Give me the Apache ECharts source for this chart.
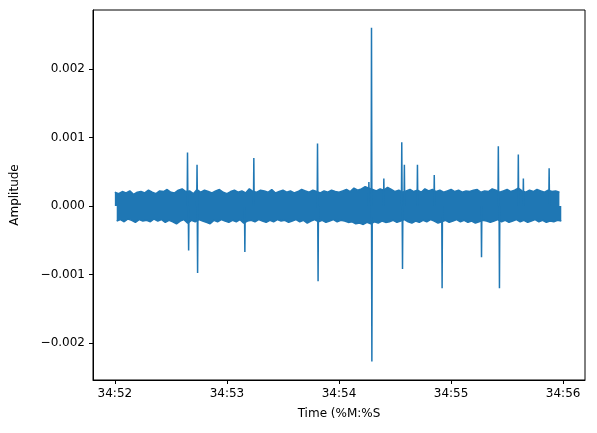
<!DOCTYPE html>
<html><head><meta charset="utf-8">
<script src="https://cdn.jsdelivr.net/npm/echarts@6/dist/echarts.min.js"></script>
<style>html,body{margin:0;padding:0;background:#fff}#c{width:597px;height:433px}</style>
</head><body><div id="c"></div>
<script>
// band envelope per 2-second bin (units of 1e-4)
const bandHi = [2.0,1.8,2.1,1.9,2.2,1.7,2.0,2.1,1.9,2.3,2.0,1.8,2.2,2.1,2.4,2.0,1.9,2.3,2.5,2.1,
  2.2,1.8,2.4,2.0,2.3,2.1,1.9,2.2,2.4,2.0,1.8,2.1,2.3,2.0,2.2,1.9,2.5,2.1,2.0,2.3,
  2.2,2.0,2.4,1.9,2.1,2.3,2.0,2.2,1.9,2.1,2.4,2.2,2.0,2.3,2.1,1.9,2.2,2.0,2.3,2.1,
  2.0,2.2,2.4,2.1,2.6,2.3,2.5,2.8,2.6,2.4,2.2,2.5,2.3,2.7,2.4,2.1,2.3,2.0,2.2,2.4,
  2.1,2.3,2.0,2.5,2.2,2.4,2.1,2.3,2.0,2.2,2.4,2.1,2.3,2.0,2.2,2.1,2.3,2.4,2.0,2.2,
  2.1,2.5,2.3,2.0,2.2,2.4,2.1,2.3,2.6,2.2,2.0,2.3,2.1,2.4,2.2,2.0,2.3,2.1,2.2,2.0];
const bandLo = [-2.2,-2.0,-2.3,-1.9,-2.1,-2.4,-2.0,-2.2,-2.1,-2.3,-1.9,-2.2,-2.0,-2.4,-2.1,-2.3,-2.6,-2.2,-2.0,-2.5,
  -2.1,-2.3,-2.0,-2.2,-2.4,-2.6,-2.1,-2.3,-2.0,-2.2,-2.4,-2.1,-2.3,-2.0,-2.5,-2.2,-2.1,-2.3,-2.0,-2.2,
  -2.4,-2.1,-2.3,-2.0,-2.2,-2.1,-2.4,-2.2,-2.0,-2.3,-2.1,-2.5,-2.2,-2.0,-2.3,-2.1,-2.4,-2.2,-2.0,-2.3,
  -2.1,-2.2,-2.4,-2.3,-2.6,-2.5,-2.7,-2.4,-2.6,-2.3,-2.5,-2.2,-2.4,-2.3,-2.1,-2.4,-2.2,-2.0,-2.3,-2.5,
  -2.2,-2.4,-2.1,-2.3,-2.0,-2.2,-2.5,-2.3,-2.1,-2.4,-2.2,-2.0,-2.3,-2.1,-2.4,-2.2,-2.5,-2.3,-2.1,-2.2,
  -2.4,-2.2,-2.0,-2.3,-2.1,-2.4,-2.2,-2.0,-2.3,-2.1,-2.4,-2.2,-2.0,-2.3,-2.1,-2.4,-2.2,-2.3,-2.1,-2.2];
// spikes: [seconds after 34:52, value in 1e-4]
const spikes = [[38.9,7.8],[39.5,-6.5],[44.0,6.0],[44.3,-9.8],[69.6,-6.7],[74.4,7.0],
  [108.5,9.1],[108.8,-11.0],[136.0,3.5],[137.4,26.0],[137.6,-22.7],[144.0,4.0],[153.6,9.3],[154.0,-9.2],
  [155.0,6.0],[162.0,6.0],[171.0,4.5],[175.2,-12.0],[196.3,-7.5],[205.3,8.7],[205.9,-12.0],
  [216.0,7.5],[218.7,4.0],[232.5,5.5]];
const tickSeconds = [0,60,120,180,240];
const tickLabels = ['34:52','34:53','34:54','34:55','34:56'];
const yTicks = [-0.002,-0.001,0,0.001,0.002];

const hiData = bandHi.map((h,i)=>[i*2, h*1e-4]);
const loData = bandLo.map((l,i)=>[i*2+1, l*1e-4]);
let spikeData = [];
spikes.forEach(s=>{ spikeData.push([s[0]-0.2, 0]); spikeData.push([s[0], s[1]*1e-4]); spikeData.push([s[0]+0.2, 0]); spikeData.push(null); });
spikeData = spikeData.map(p=>p===null?['-','-']:p);

const C = '#1f77b4';
const chart = echarts.init(document.getElementById('c'));
const fam = 'DejaVu Sans';
chart.setOption({
  animation:false,
  grid:{left:93,right:12,top:10,bottom:53,show:true,borderColor:'#000',borderWidth:1},
  xAxis:{type:'value',min:-11.7,max:251.7,name:'Time (%M:%S',nameLocation:'middle',nameGap:28,
    nameTextStyle:{color:'#000',fontSize:12,fontFamily:fam},
    splitLine:{show:false},axisLine:{onZero:false,lineStyle:{color:'#000'}},
    axisTick:{customValues:tickSeconds,lineStyle:{color:'#000'},length:4},
    axisLabel:{customValues:tickSeconds,color:'#000',fontSize:12,fontFamily:fam,
      formatter:v=>tickLabels[tickSeconds.indexOf(Math.round(v))]||''}},
  yAxis:{type:'value',min:-0.00254,max:0.00286,name:'Amplitude',nameLocation:'middle',nameGap:72,
    nameTextStyle:{color:'#000',fontSize:12,fontFamily:fam},
    splitLine:{show:false},axisLine:{show:true,onZero:false,lineStyle:{color:'#000'}},
    axisTick:{show:true,customValues:yTicks,lineStyle:{color:'#000'},length:4},
    axisLabel:{customValues:yTicks,color:'#000',fontSize:12,fontFamily:fam,
      formatter:v=>(v<0?'\u2212':'')+Math.abs(v).toFixed(3)}},
  series:[
    {type:'line',data:hiData,showSymbol:false,lineStyle:{color:C,width:1.5},areaStyle:{color:C,opacity:1,origin:0},itemStyle:{color:C}},
    {type:'line',data:loData,showSymbol:false,lineStyle:{color:C,width:1.5},areaStyle:{color:C,opacity:1,origin:0},itemStyle:{color:C}},
    {type:'line',data:spikeData,showSymbol:false,connectNulls:false,lineStyle:{color:C,width:1.5},itemStyle:{color:C}}
  ]
});
</script></body></html>
